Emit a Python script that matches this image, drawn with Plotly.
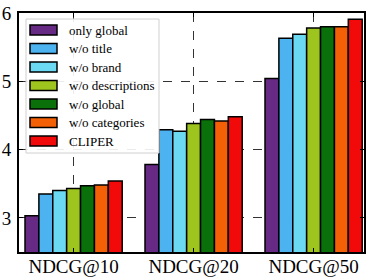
import plotly.graph_objects as go

categories = ["NDCG@10", "NDCG@20", "NDCG@50"]
series_names = ["only global", "w/o title", "w/o brand", "w/o descriptions",
                "w/o global", "w/o categories", "CLIPER"]
only_global = [3.03, 3.78, 5.04]
wo_title = [3.35, 4.29, 5.63]
wo_brand = [3.40, 4.27, 5.69]
wo_descriptions = [3.43, 4.38, 5.78]
wo_global = [3.47, 4.44, 5.80]
wo_categories = [3.48, 4.42, 5.80]
cliper = [3.54, 4.48, 5.91]
y_ticks = [3, 4, 5, 6]

series_values = [only_global, wo_title, wo_brand, wo_descriptions,
                 wo_global, wo_categories, cliper]
colors = ["#662a85", "#4db3f0", "#6bd9f2", "#9ec41e", "#0a700a", "#f46005", "#f20a0a"]

serif = "Times New Roman, Liberation Serif, DejaVu Serif, serif"

fig = go.Figure()
xpos = list(range(len(categories)))
for name, vals, col in zip(series_names, series_values, colors):
    fig.add_trace(go.Bar(x=xpos, y=vals, name=name, marker_color=col,
                         marker_line_color="black", marker_line_width=1.5,
                         showlegend=False, hoverinfo="skip"))

fig.update_layout(
    width=374, height=279,
    margin=dict(l=19, r=10, t=13, b=27),
    paper_bgcolor="white", plot_bgcolor="white",
    barmode="group", bargap=0.19, bargroupgap=0,
    font=dict(family=serif, color="black"),
)
fig.update_xaxes(
    range=[-0.455, 2.42], tickmode="array", tickvals=xpos, ticktext=categories,
    tickfont=dict(size=19, family=serif), ticks="inside", ticklen=4,
    tickcolor="black", showline=True, linecolor="black", linewidth=2,
    mirror="ticks", showgrid=True, gridcolor="#333", griddash="dash",
    gridwidth=1, zeroline=False, ticklabelstandoff=-4, automargin=False,
)
fig.update_yaxes(
    range=[2.5, 6], tickmode="array", tickvals=y_ticks,
    ticktext=[str(t) for t in y_ticks],
    tickfont=dict(size=19, family=serif), ticks="inside", ticklen=4,
    tickcolor="black", showline=True, linecolor="black", linewidth=2,
    mirror="ticks", showgrid=True, gridcolor="#333", griddash="dash",
    gridwidth=1, zeroline=False, ticklabelstandoff=2, automargin=False,
)

# manual legend (matplotlib-like wide swatches)
def px_to_paper_x(px):
    return (px - 19) / 345

def px_to_paper_y(py):
    return (252 - py) / 239

fig.add_shape(type="rect", xref="paper", yref="paper",
              x0=px_to_paper_x(26), x1=px_to_paper_x(159),
              y0=px_to_paper_y(153), y1=px_to_paper_y(19),
              line=dict(color="#d0d0d0", width=1), fillcolor="rgba(255,255,255,0.9)",
              layer="above")
centers = [30, 48.5, 67, 85.5, 104, 122.5, 141]
for name, col, cy in zip(series_names, colors, centers):
    fig.add_shape(type="rect", xref="paper", yref="paper",
                  x0=px_to_paper_x(30), x1=px_to_paper_x(57),
                  y0=px_to_paper_y(cy + 5), y1=px_to_paper_y(cy - 5),
                  line=dict(color="black", width=1.5), fillcolor=col, layer="above")
    fig.add_annotation(xref="paper", yref="paper", x=px_to_paper_x(67),
                       y=px_to_paper_y(cy), text=name, showarrow=False,
                       xanchor="left", yanchor="middle",
                       font=dict(size=13, family=serif, color="black"))

fig.write_html("out.html", config={"displayModeBar": False},
               post_script="document.body.style.margin='0';")
